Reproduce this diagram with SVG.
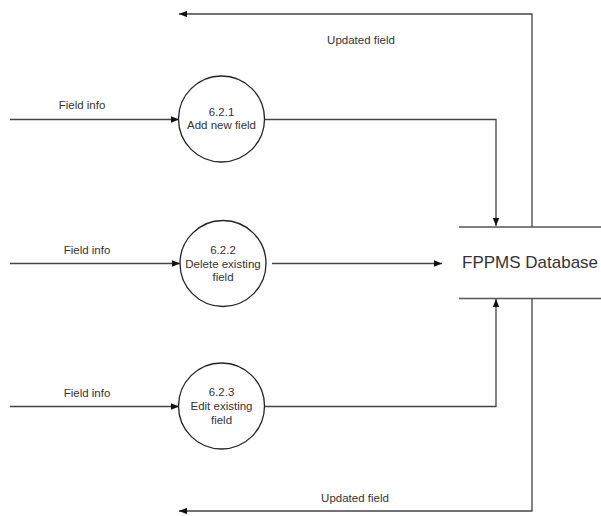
<svg xmlns="http://www.w3.org/2000/svg" width="601" height="516" viewBox="0 0 601 516">
<defs>
<marker id="arr" viewBox="0 0 10 8" refX="10" refY="4" markerWidth="8" markerHeight="6.4" markerUnits="userSpaceOnUse" orient="auto">
<path d="M0,0 L10,4 L0,8 z" fill="#111"/>
</marker>
</defs>
<style>
text{font-family:"Liberation Sans",Arial,sans-serif;fill:#333;font-size:11.5px;text-anchor:middle}
.c{fill:#fff;stroke:#222;stroke-width:1.3}
.l{fill:none;stroke:#444;stroke-width:1.3}
.a{marker-end:url(#arr)}
.db{stroke:#555;stroke-width:1.5}
.big{font-size:17px;text-anchor:start}
</style>
<rect width="601" height="516" fill="#fff"/>
<g id="connectors">
<path class="l a" d="M10,119.5 H179"/>
<path class="l a" d="M10,263.5 H180"/>
<path class="l a" d="M10,406.5 H179"/>
<path class="l a" d="M265,119.5 H496 V226"/>
<path class="l a" d="M272,263.5 H442"/>
<path class="l a" d="M265,406.5 H496 V299"/>
<path class="l a" d="M532,227 V14 H179"/>
<path class="l a" d="M532,298 V511 H179"/>
<text x="82" y="109">Field info</text>
<text x="87" y="254">Field info</text>
<text x="87" y="397">Field info</text>
<text x="361" y="44">Updated field</text>
<text x="355" y="502">Updated field</text>
</g>
<g id="p621">
<circle class="c" cx="221.5" cy="119" r="43"/>
<text x="221.5" y="116">6.2.1</text>
<text x="221.5" y="129">Add new field</text>
</g>
<g id="p622">
<circle class="c" cx="223" cy="263.5" r="43"/>
<text x="223" y="254">6.2.2</text>
<text x="223" y="267.5">Delete existing</text>
<text x="223" y="281">field</text>
</g>
<g id="p623">
<circle class="c" cx="221.5" cy="406" r="43"/>
<text x="221.5" y="396">6.2.3</text>
<text x="221.5" y="410">Edit existing</text>
<text x="221.5" y="424">field</text>
</g>
<g id="db">
<line class="db" x1="459" y1="227" x2="601" y2="227"/>
<line class="db" x1="459" y1="298.5" x2="601" y2="298.5"/>
<text class="big" x="462" y="268">FPPMS Database</text>
</g>
</svg>
